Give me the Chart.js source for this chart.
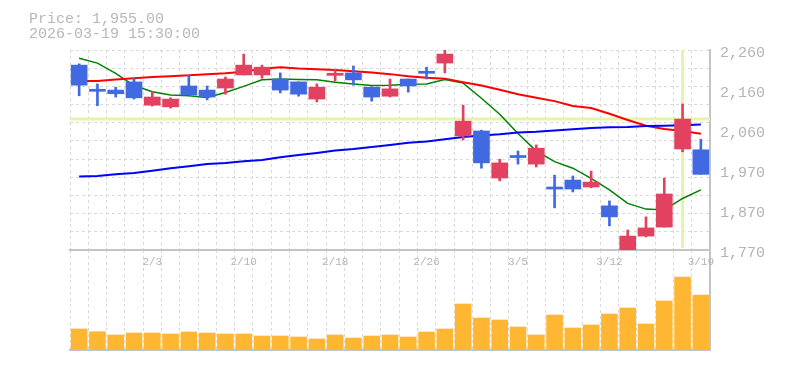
<!DOCTYPE html>
<html>
<head>
<meta charset="utf-8">
<script src="https://cdn.jsdelivr.net/npm/chart.js@4.4.1/dist/chart.umd.min.js"></script>
<style>
  html, body { margin: 0; padding: 0; background: #fff; }
  .wrap { position: relative; width: 785px; height: 370px; overflow: hidden; }
  .wrap canvas { position: absolute; left: 0; top: 0; }
  .info {
    position: absolute; left: 29px; top: 12px;
    font: 15px 'Liberation Mono', monospace; line-height: 15px;
    color: #b8b8b8; white-space: pre;
  }
</style>
</head>
<body>
<div class="wrap">
  <canvas id="volumeChart" width="785" height="370"></canvas>
  <canvas id="priceChart" width="785" height="370"></canvas>
  <div class="info" id="info"></div>
</div>
<script>
const dates = ['1/28', '1/29', '1/30', '2/2', '2/3', '2/4', '2/5', '2/6', '2/9', '2/10',
  '2/12', '2/13', '2/16', '2/17', '2/18', '2/19', '2/20', '2/24', '2/25', '2/26',
  '2/27', '3/2', '3/3', '3/4', '3/5', '3/6', '3/9', '3/10', '3/11', '3/12',
  '3/13', '3/16', '3/17', '3/18', '3/19'];

const opens = [2222, 2163, 2161, 2181, 2124, 2120, 2171, 2161, 2166, 2198,
  2198, 2188, 2181, 2139, 2197, 2203, 2168, 2146, 2188, 2207,
  2227, 2049, 2061, 1946, 2001, 1980, 1924, 1941, 1924, 1878,
  1770, 1804, 1826, 2017, 2015];
const highs = [2225, 2176, 2168, 2190, 2157, 2142, 2198, 2171, 2193, 2249,
  2222, 2203, 2181, 2176, 2212, 2220, 2169, 2188, 2188, 2217,
  2259, 2124, 2063, 1992, 2012, 2027, 1953, 1951, 1963, 1890,
  1819, 1851, 1946, 2127, 2041];
const lows = [2147, 2123, 2144, 2139, 2122, 2117, 2149, 2137, 2151, 2198,
  2190, 2154, 2146, 2132, 2183, 2173, 2134, 2144, 2156, 2188,
  2203, 2039, 1970, 1939, 1980, 1973, 1873, 1912, 1922, 1829,
  1770, 1802, 1826, 2010, 1955];
const closes = [2173, 2158, 2152, 2142, 2144, 2139, 2149, 2144, 2188, 2222,
  2217, 2161, 2151, 2168, 2202, 2186, 2144, 2164, 2171, 2202,
  2249, 2085, 1983, 1983, 1996, 2019, 1919, 1919, 1936, 1851,
  1804, 1824, 1907, 2090, 1955];

const ma5 = [2239, 2227, 2202, 2172, 2157, 2149, 2147, 2143, 2155, 2170,
  2186, 2188, 2187, 2186, 2180, 2176, 2172, 2173, 2175, 2176,
  2187, 2178, 2141, 2102, 2055, 2012, 1986, 1970, 1945, 1917,
  1884, 1870, 1868, 1896, 1917];
const ma25 = [2183, 2183, 2187, 2190, 2193, 2195, 2197, 2200, 2202, 2206,
  2213, 2217, 2214, 2212, 2210, 2207, 2204, 2200, 2195, 2191,
  2189, 2180, 2172, 2162, 2151, 2142, 2134, 2122, 2117, 2103,
  2088, 2074, 2066, 2061, 2054];
const ma75 = [1950, 1951, 1955, 1958, 1964, 1970, 1975, 1980, 1983, 1987,
  1990, 1997, 2002, 2007, 2013, 2017, 2022, 2027, 2032, 2035,
  2041, 2046, 2050, 2053, 2057, 2059, 2062, 2065, 2068, 2070,
  2071, 2073, 2074, 2075, 2077];

// volume, thousand shares
const volumes = [210, 183, 150, 170, 170, 160, 180, 170, 160, 160,
  140, 140, 130, 110, 150, 120, 140, 150, 130, 180,
  210, 460, 320, 300, 230, 150, 350, 220, 250, 360,
  420, 260, 490, 730, 550];

const priceMin = 1770;
const priceMax = 2259;
const priceTickLabels = ['1,770', '1,870', '1,970', '2,060', '2,160', '2,260'];

const lastPrice = '1,955.00';
const lastTime = '2026-03-19 15:30:00';

// crosshair position (candle index, price)
const crossIndex = 33;
const crossPrice = 2090;

const UP = '#e2425f';
const DOWN = '#4169e1';
const GRID = '#d9d9d9';
const AXIS = '#c4c4c4';
const TEXT = '#b4b4b4';
const FONT = "'Liberation Mono', monospace";

document.getElementById('info').textContent = `Price: ${lastPrice}\n${lastTime}`;

const candleColors = closes.map((c, i) => (c >= opens[i] ? UP : DOWN));

const crosshair = {
  id: 'crosshair',
  beforeDatasetsDraw(chart) {
    const { ctx, chartArea, scales } = chart;
    const x = scales.x.getPixelForValue(crossIndex);
    const y = scales.y.getPixelForValue(crossPrice);
    ctx.save();
    ctx.strokeStyle = 'rgb(228, 245, 170)';
    ctx.lineWidth = 3;
    ctx.beginPath();
    ctx.moveTo(chartArea.left, y);
    ctx.lineTo(chartArea.right, y);
    ctx.moveTo(x, chartArea.top);
    ctx.lineTo(x, chartArea.bottom - 2);
    ctx.stroke();
    ctx.restore();
  },
};

const lineSet = (data, color, width) => ({
  type: 'line',
  data,
  borderColor: color,
  borderWidth: width,
  pointRadius: 0,
  tension: 0,
  fill: false,
  order: 5,
});

new Chart(document.getElementById('priceChart'), {
  type: 'bar',
  data: {
    labels: dates,
    datasets: [
      lineSet(ma75, '#0000ff', 2),
      lineSet(ma25, '#ff0000', 2),
      lineSet(ma5, '#008000', 1.5),
      {
        data: lows.map((l, i) => [l, highs[i]]),
        backgroundColor: candleColors,
        barThickness: 2,
        grouped: false,
        order: 2,
      },
      {
        data: opens.map((o, i) => [o, closes[i]]),
        backgroundColor: candleColors,
        barThickness: 16,
        grouped: false,
        order: 1,
      },
    ],
  },
  options: {
    responsive: false,
    animation: false,
    layout: { padding: { top: 50, left: 70, right: 0, bottom: 0 } },
    plugins: { legend: { display: false }, tooltip: { enabled: false } },
    scales: {
      x: {
        offset: true,
        grid: { offset: true, color: GRID, drawTicks: false },
        border: { color: AXIS, width: 2, dash: [3, 3] },
        ticks: {
          autoSkip: false,
          maxRotation: 0,
          padding: 5,
          color: TEXT,
          font: { family: FONT, size: 11 },
          callback: (v, i) => (i % 5 === 4 ? dates[i] : ''),
        },
        afterFit: (s) => { s.height = 120; },
      },
      y: {
        position: 'right',
        min: priceMin,
        max: priceMax,
        grid: { display: false, drawTicks: false },
        border: { color: AXIS, width: 2 },
        afterBuildTicks: (s) => {
          const n = priceTickLabels.length - 1;
          s.ticks = priceTickLabels.map((_, i) => ({ value: priceMin + (i * (priceMax - priceMin)) / n }));
        },
        ticks: {
          padding: 10,
          color: TEXT,
          font: { family: FONT, size: 15, lineHeight: '6px' },
          callback: (v, i) => ['', priceTickLabels[i]],
        },
        afterFit: (s) => { s.width = 75; },
      },
      yGrid: {
        position: 'left',
        min: 0,
        max: 11,
        ticks: { display: false, stepSize: 1 },
        grid: { color: GRID, drawTicks: false },
        border: { display: false, dash: [3, 3] },
        afterFit: (s) => { s.width = 0; },
      },
    },
  },
  plugins: [crosshair],
});

new Chart(document.getElementById('volumeChart'), {
  type: 'bar',
  data: {
    labels: dates,
    datasets: [{
      data: volumes,
      backgroundColor: '#ffb733',
      barThickness: 16,
    }],
  },
  options: {
    responsive: false,
    animation: false,
    layout: { padding: { top: 250, left: 70, right: 0, bottom: 0 } },
    plugins: { legend: { display: false }, tooltip: { enabled: false } },
    scales: {
      x: {
        offset: true,
        grid: { offset: true, color: GRID, drawTicks: false },
        border: { color: AXIS, width: 2, dash: [3, 3] },
        ticks: { display: false },
        afterFit: (s) => { s.height = 20; },
      },
      y: {
        position: 'right',
        min: 0,
        max: 1000,
        grid: { display: false, drawTicks: false },
        border: { color: AXIS, width: 2 },
        ticks: { display: false },
        afterFit: (s) => { s.width = 75; },
      },
    },
  },
});
</script>
</body>
</html>
